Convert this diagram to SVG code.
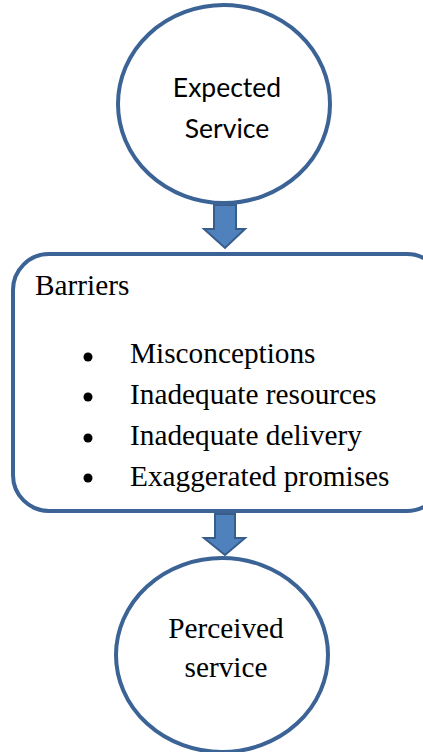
<svg xmlns="http://www.w3.org/2000/svg" width="423" height="752" viewBox="0 0 423 752">
<style>
.node{fill:#fff;stroke:#3b6395;stroke-width:4}
.arr{fill:#4f81bd;stroke:#385d8a;stroke-width:2}
</style>
<rect width="423" height="752" fill="#fff"/>
<g id="connectors">
<path class="arr" d="M214,205 H236 V229 H245 L225,248 L204,229 H214 Z"/>
<path class="arr" d="M215,514 H235 V538 H245 L225,555 L204,538 H215 Z"/>
</g>
<g id="expected">
<ellipse class="node" cx="224" cy="104" rx="106" ry="99"/>
<g font-family="Lato" font-size="26.5" text-anchor="middle" fill="#000">
<text x="227" y="97">Expected</text>
<text x="227" y="138">Service</text>
</g>
</g>
<g id="barriers">
<rect class="node" x="13" y="254" width="430" height="257" rx="36"/>
<circle cx="88" cy="357" r="4.5"/>
<circle cx="88" cy="397" r="4.5"/>
<circle cx="88" cy="438" r="4.5"/>
<circle cx="88" cy="478" r="4.5"/>
<g font-family="Liberation Serif" font-size="29.3" fill="#000">
<text x="35" y="295">Barriers</text>
<text x="130" y="363">Misconceptions</text>
<text x="130" y="404">Inadequate resources</text>
<text x="130" y="445">Inadequate delivery</text>
<text x="130" y="486">Exaggerated promises</text>
</g>
</g>
<g id="perceived">
<ellipse class="node" cx="222" cy="655" rx="106" ry="97"/>
<g font-family="Liberation Serif" font-size="29.3" text-anchor="middle" fill="#000">
<text x="226" y="638">Perceived</text>
<text x="226" y="677">service</text>
</g>
</g>
</svg>
